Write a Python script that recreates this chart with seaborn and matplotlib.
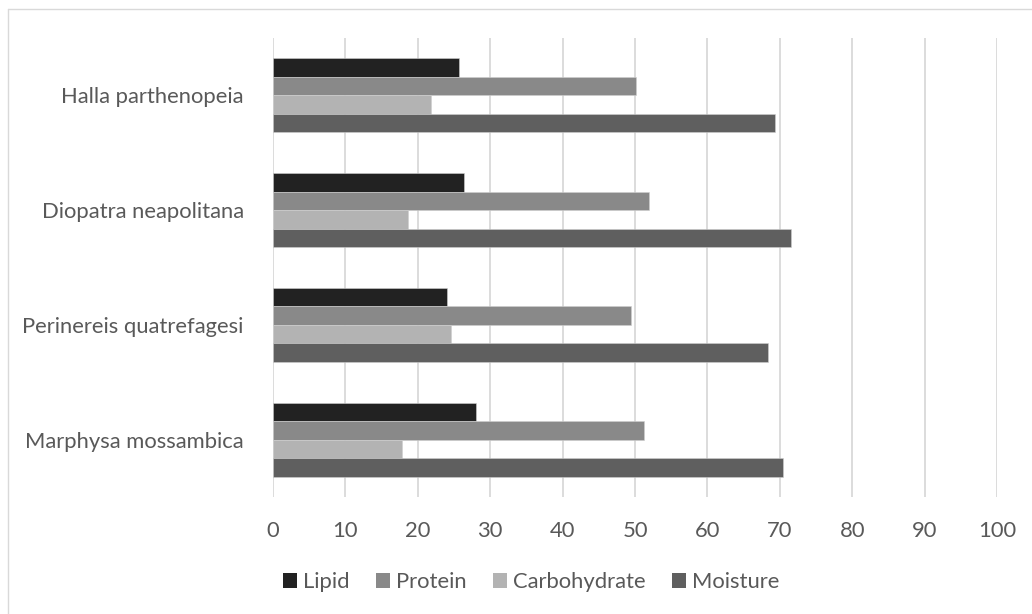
import matplotlib
matplotlib.use("Agg")
import matplotlib.pyplot as plt
from matplotlib.lines import Line2D
from matplotlib.patches import Patch
import seaborn as sns
import pandas as pd

# 数据
species = ["Halla parthenopeia", "Diopatra neapolitana",
           "Perinereis quatrefagesi", "Marphysa mossambica"]
nutrients = ["Lipid", "Protein", "Carbohydrate", "Moisture"]
lipid = [25.7, 26.4, 24.1, 28.1]
protein = [50.2, 52.0, 49.4, 51.3]
carbohydrate = [21.8, 18.6, 24.6, 17.8]
moisture = [69.3, 71.5, 68.4, 70.4]
xticks = list(range(0, 101, 10))

colors = ["#222222", "#898989", "#b3b3b3", "#5f5f5f"]

df = pd.DataFrame({
    "species": species * 4,
    "nutrient": [n for n in nutrients for _ in species],
    "value": lipid + protein + carbohydrate + moisture,
})

sns.set_style("white")
plt.rcParams["font.family"] = ["Lato", "DejaVu Sans"]
fs = 15.8

fig = plt.figure(figsize=(10.32, 6.14), dpi=100)
ax = fig.add_axes([273 / 1032, 1 - 497 / 614, (997 - 273) / 1032, (497 - 38) / 614])

sns.barplot(data=df, x="value", y="species", hue="nutrient",
            order=species, hue_order=nutrients, palette=colors,
            orient="h", width=0.645, gap=0, ax=ax, legend=False,
            edgecolor="#cfcfcf", linewidth=0.4, errorbar=None)

ax.set_xlim(0, 100)
ax.set_xticks(xticks)
ax.set_xlabel("")
ax.set_ylabel("")
ax.xaxis.grid(True, color="#d9d9d9", linewidth=1.3)
ax.yaxis.grid(False)
ax.set_axisbelow(True)
for s in ["top", "right", "bottom", "left"]:
    ax.spines[s].set_visible(False)
ax.tick_params(axis="both", length=0, labelcolor="#595959", labelsize=fs)
ax.tick_params(axis="x", pad=17)
ax.tick_params(axis="y", pad=21)

handles = [Patch(facecolor=c, edgecolor="none") for c in colors]
fig.legend(handles, nutrients, loc="center", ncol=4, frameon=False,
           bbox_to_anchor=(531 / 1032, 1 - 582 / 614), fontsize=fs,
           labelcolor="#595959", handlelength=0.64, handleheight=0.64,
           handletextpad=0.27, columnspacing=1.2)

# 外框（只可见上边和左边）
fig.add_artist(Line2D([8 / 1032, 1], [1 - 9 / 614, 1 - 9 / 614],
                      transform=fig.transFigure, color="#d9d9d9", linewidth=1))
fig.add_artist(Line2D([8 / 1032, 8 / 1032], [0, 1 - 9 / 614],
                      transform=fig.transFigure, color="#d9d9d9", linewidth=1))

fig.savefig("out.png", dpi=100)
